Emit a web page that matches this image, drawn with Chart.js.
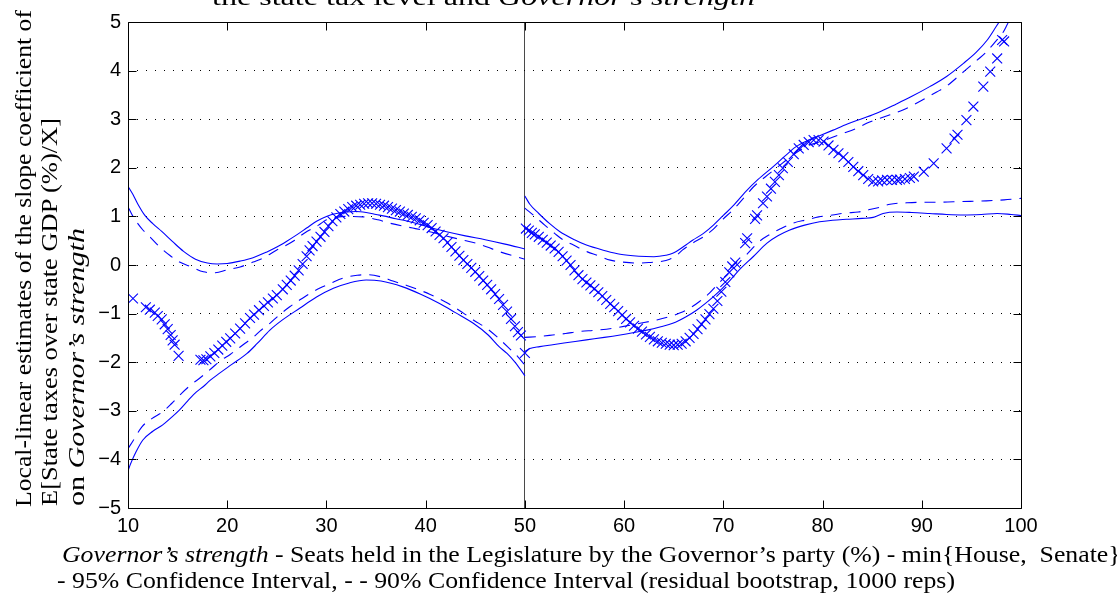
<!DOCTYPE html>
<html><head><meta charset="utf-8">
<script src="https://cdn.jsdelivr.net/npm/chart.js@4.4.0/dist/chart.umd.min.js"></script>
<style>
html,body{margin:0;padding:0;background:#fff;overflow:hidden}
#wrap{position:relative;width:1117px;height:596px;overflow:hidden;background:#fff}
#c{position:absolute;left:0;top:0}
#txt{position:absolute;left:0;top:0;pointer-events:none}
#txt text{white-space:pre}
</style></head><body>
<div id="wrap">
<canvas id="c" width="1117" height="596"></canvas>
<svg id="txt" width="1117" height="596" font-family="'Liberation Serif', 'Times New Roman', serif" font-size="24" fill="#000">
  <text id="title" x="212" y="5">the state tax level and <tspan font-style="italic">Governor’s strength</tspan></text>
  <text id="xl1" x="62" y="562"><tspan font-style="italic">Governor’s strength</tspan> - Seats held in the Legislature by the Governor’s party (%) - min{House,  Senate}</text>
  <text id="xl2" x="57" y="588">- 95% Confidence Interval, - - 90% Confidence Interval (residual bootstrap, 1000 reps)</text>
  <text id="yl1" transform="translate(31,507) rotate(-90)" x="0" y="0">Local-linear estimates of the slope coefficient of</text>
  <text id="yl2" transform="translate(57,506) rotate(-90)" x="0" y="0">E[State taxes over state GDP (%)/X]</text>
  <text id="yl3" transform="translate(84,506) rotate(-90)" x="0" y="0">on <tspan font-style="italic">Governor’s strength</tspan></text>
</svg>
</div>
<script>
// ---- tick labels ----
const xTickValues = [10, 20, 30, 40, 50, 60, 70, 80, 90, 100];
const yTickValues = [-5, -4, -3, -2, -1, 0, 1, 2, 3, 4, 5];

// ---- left segment (10 - 50) ----
const upper95Left = [[10,1.62],[10.5,1.45],[11,1.25],[11.7,1.02],[12.5,0.85],[13.4,0.69],[14.5,0.48],[15.6,0.28],[16.8,0.12],[18,0.04],[19,0.02],[20,0.03],[21.3,0.08],[22.6,0.15],[24,0.27],[25,0.37],[26,0.49],[27,0.62],[28,0.76],[29,0.9],[30,1.0],[31,1.06],[32,1.09],[33,1.1],[34,1.08],[35,1.04],[36,1.0],[37,0.95],[38,0.91],[39,0.86],[40,0.8],[41,0.74],[42,0.69],[44,0.6],[46,0.52],[48,0.43],[50,0.33]];
const upper90Left = [[10,1.2],[10.5,1.0],[11.5,0.72],[12.3,0.56],[13.2,0.37],[14.2,0.2],[15.2,0.06],[16.4,-0.04],[17.6,-0.14],[18.8,-0.16],[20,-0.1],[21.3,-0.04],[22.6,0.06],[23.6,0.14],[25,0.31],[25.8,0.39],[26.8,0.51],[27.8,0.66],[29.2,0.82],[30,0.93],[31,0.98],[32,1.0],[33.7,0.99],[35.2,0.93],[36.4,0.86],[37.7,0.8],[38.7,0.76],[40.1,0.7],[42,0.6],[43.8,0.51],[45.2,0.44],[46.2,0.37],[47.5,0.27],[50,0.12]];
const lower95Left = [[10,-4.25],[10.1,-4.18],[10.8,-3.85],[11.5,-3.6],[12.5,-3.42],[13.5,-3.29],[14.3,-3.15],[15.2,-2.98],[16,-2.8],[16.9,-2.61],[17.6,-2.5],[18.3,-2.37],[19.2,-2.23],[20.5,-2.04],[22,-1.82],[23,-1.62],[24.3,-1.34],[25.5,-1.14],[27.3,-0.89],[29,-0.66],[30.7,-0.48],[32.3,-0.37],[34,-0.31],[35.5,-0.33],[37.7,-0.45],[39.5,-0.6],[41.4,-0.79],[43,-0.98],[44.8,-1.2],[46.3,-1.44],[47.4,-1.68],[48.2,-1.82],[49,-2.0],[50,-2.28]];
const lower90Left = [[10,-3.78],[10.5,-3.62],[11.4,-3.33],[12.4,-3.16],[13.5,-3.02],[14.4,-2.85],[15.4,-2.64],[16.2,-2.49],[17.4,-2.3],[18.4,-2.13],[19.3,-1.97],[20.3,-1.84],[21.8,-1.61],[22.6,-1.49],[23.3,-1.36],[24.3,-1.2],[25.3,-1.02],[26.3,-0.86],[27.3,-0.72],[28.3,-0.59],[29.4,-0.47],[30.4,-0.38],[31.7,-0.27],[33.1,-0.21],[34.2,-0.2],[35.6,-0.25],[36.7,-0.33],[38.1,-0.42],[39.3,-0.51],[40.4,-0.6],[42,-0.76],[43.8,-0.99],[44.8,-1.13],[46.2,-1.31],[47.2,-1.48],[48.5,-1.73],[49.3,-1.89],[50,-2.06]];
const estimateLeft = [[10.5,-0.69],[11.8,-0.87],[12.2,-0.92],[12.7,-0.98],[13.0,-1.05],[13.4,-1.12],[13.7,-1.22],[14.0,-1.32],[14.3,-1.44],[14.5,-1.55],[14.7,-1.64],[15.1,-1.87],[17.3,-1.95],[17.6,-1.96],[17.9,-1.94],[18.3,-1.88],[18.7,-1.81],[19.1,-1.74],[19.5,-1.66],[19.9,-1.58],[20.3,-1.51],[20.8,-1.41],[21.3,-1.31],[21.8,-1.2],[22.3,-1.09],[22.7,-1.02],[23.2,-0.93],[23.7,-0.84],[24.1,-0.77],[24.6,-0.69],[25.0,-0.62],[25.6,-0.5],[26.0,-0.41],[26.4,-0.32],[26.8,-0.22],[27.2,-0.11],[27.6,0.02],[28.0,0.18],[28.3,0.3],[28.6,0.39],[29.0,0.48],[29.4,0.58],[29.8,0.68],[30.2,0.8],[30.6,0.9],[31.0,0.98],[31.4,1.05],[31.8,1.1],[32.2,1.15],[32.6,1.19],[33.0,1.22],[33.4,1.24],[33.8,1.26],[34.2,1.27],[34.6,1.27],[35.0,1.26],[35.4,1.24],[35.8,1.22],[36.2,1.19],[36.6,1.16],[37.0,1.13],[37.4,1.1],[37.8,1.06],[38.2,1.03],[38.6,0.99],[39.0,0.96],[39.4,0.92],[39.8,0.87],[40.2,0.82],[40.6,0.76],[41.0,0.69],[41.4,0.62],[41.8,0.55],[42.2,0.46],[42.6,0.37],[43.0,0.28],[43.4,0.19],[43.8,0.1],[44.2,0.02],[44.6,-0.06],[45.0,-0.14],[45.4,-0.23],[45.8,-0.32],[46.2,-0.41],[46.6,-0.5],[47.0,-0.6],[47.4,-0.7],[47.8,-0.82],[48.2,-0.96],[48.6,-1.11],[49.0,-1.26],[49.3,-1.38],[49.6,-1.45],[50.0,-1.81]];

// ---- right segment (50 - 100) ----
const upper95Right = [[50,1.42],[50.5,1.25],[51.4,1.06],[52.5,0.85],[53.5,0.69],[55,0.52],[56.2,0.41],[58,0.3],[59.6,0.22],[61.5,0.18],[63,0.17],[64.2,0.2],[64.9,0.24],[66,0.38],[66.9,0.51],[68,0.65],[69,0.82],[70,1.02],[71,1.22],[72.3,1.52],[73.5,1.76],[75,2.02],[76.2,2.24],[77.3,2.43],[78.5,2.56],[79.7,2.66],[81,2.77],[82.5,2.9],[84.1,3.02],[85.5,3.13],[87.4,3.31],[89,3.47],[90.8,3.67],[92.5,3.88],[94.2,4.15],[95.5,4.38],[96.6,4.63],[97.8,5.0],[100,5.6]];
const upper90Right = [[50,1.17],[51,1.0],[52,0.82],[53,0.65],[53.9,0.51],[54.9,0.41],[56.3,0.27],[57.3,0.2],[58.6,0.1],[59.9,0.06],[61.3,0.04],[62.5,0.05],[63.6,0.07],[64.6,0.12],[65.3,0.2],[65.9,0.31],[66.9,0.45],[68,0.58],[69,0.74],[70,0.95],[71,1.14],[72.4,1.46],[73,1.6],[74.7,1.89],[75.5,2.02],[77,2.26],[78.5,2.45],[80,2.55],[81,2.63],[82.1,2.71],[83.5,2.82],[84.5,2.92],[85.8,3.02],[86.8,3.09],[88.1,3.19],[89.1,3.29],[90.1,3.4],[91.5,3.56],[92.5,3.68],[93.5,3.85],[94.4,4.01],[95.6,4.22],[96.4,4.36],[97.4,4.59],[98.2,4.79],[98.7,4.98],[100,5.35]];
const lower95Right = [[50,-1.78],[50.5,-1.72],[51.5,-1.68],[52.8,-1.64],[54.5,-1.59],[56.2,-1.54],[58,-1.49],[59.6,-1.44],[61,-1.39],[62.3,-1.34],[63.7,-1.27],[64.9,-1.2],[66.2,-1.07],[67.3,-0.93],[68.2,-0.79],[69,-0.65],[69.9,-0.48],[70.7,-0.31],[71.7,-0.08],[73,0.17],[74.4,0.45],[75.5,0.6],[76.7,0.72],[78.2,0.82],[79.7,0.89],[81,0.92],[82.4,0.94],[84,0.96],[85.1,0.98],[86.1,1.06],[87.5,1.09],[89,1.08],[90.8,1.06],[92.5,1.04],[94.2,1.03],[96,1.04],[97.6,1.06],[99,1.04],[100,1.02]];
const lower90Right = [[50,-1.49],[51.4,-1.47],[52.8,-1.44],[54.1,-1.41],[55.4,-1.37],[57.2,-1.34],[58.9,-1.3],[60.3,-1.25],[61.6,-1.2],[63.3,-1.13],[64.6,-1.06],[65.6,-0.99],[66.6,-0.89],[67.6,-0.75],[68.6,-0.58],[69.6,-0.36],[70.7,-0.14],[71.6,0.05],[72.6,0.27],[73.6,0.48],[74.7,0.63],[75.7,0.74],[77,0.86],[78.4,0.93],[79.6,0.99],[81,1.03],[82.3,1.07],[83.6,1.09],[84.5,1.13],[85.8,1.19],[86.8,1.25],[88.5,1.28],[90,1.29],[91.3,1.29],[93.2,1.3],[94.9,1.31],[96.5,1.32],[98.3,1.34],[100,1.37]];
const estimateRight = [[50.1,0.75],[50.4,0.71],[50.7,0.66],[51.0,0.63],[51.4,0.58],[51.8,0.52],[52.2,0.46],[52.6,0.4],[53.0,0.34],[53.4,0.27],[53.8,0.18],[54.2,0.09],[54.6,0.0],[55.0,-0.11],[55.4,-0.21],[55.8,-0.29],[56.2,-0.36],[56.6,-0.42],[57.0,-0.49],[57.4,-0.56],[57.8,-0.64],[58.2,-0.72],[58.6,-0.8],[59.0,-0.87],[59.4,-0.95],[59.8,-1.03],[60.2,-1.11],[60.6,-1.18],[61.0,-1.25],[61.4,-1.31],[61.8,-1.37],[62.2,-1.43],[62.6,-1.48],[63.0,-1.53],[63.4,-1.57],[63.8,-1.6],[64.2,-1.62],[64.6,-1.64],[65.0,-1.65],[65.4,-1.64],[65.8,-1.62],[66.2,-1.57],[66.6,-1.5],[67.0,-1.42],[67.4,-1.32],[67.8,-1.22],[68.2,-1.12],[68.6,-1.01],[69.0,-0.9],[69.4,-0.74],[69.8,-0.55],[70.2,-0.35],[70.6,-0.15],[70.9,-0.03],[71.2,0.05],[72.2,0.45],[72.4,0.55],[73.2,0.95],[73.4,1.02],[74.0,1.27],[74.4,1.41],[74.8,1.57],[75.2,1.71],[75.6,1.85],[76.0,1.99],[76.5,2.12],[77.1,2.28],[77.6,2.4],[78.1,2.47],[78.6,2.53],[79.1,2.57],[79.6,2.57],[80.1,2.54],[80.6,2.46],[81.1,2.37],[81.6,2.3],[82.1,2.22],[82.6,2.12],[83.1,2.02],[83.6,1.93],[84.1,1.85],[84.6,1.77],[85.1,1.72],[85.6,1.72],[86.0,1.74],[86.5,1.75],[87.0,1.75],[87.5,1.75],[87.8,1.76],[88.3,1.77],[88.8,1.79],[89.2,1.82],[90.2,1.92],[91.2,2.09],[92.5,2.4],[93.3,2.6],[93.6,2.68],[94.5,2.98],[95.2,3.26],[96.2,3.67],[96.9,3.98],[97.6,4.25],[98.1,4.63],[98.3,4.6]];

const BLUE = '#0000ff';
const toXY = arr => arr.map(([x, y]) => ({x, y}));
const lineDs = (arr, dashed) => ({
  type: 'line', data: toXY(arr), borderColor: BLUE, borderWidth: 1.1,
  borderDash: dashed ? [11, 8] : [], pointRadius: 0, fill: false,
  tension: 0.4, cubicInterpolationMode: 'monotone', parsing: false
});
const pointDs = arr => ({
  type: 'scatter', data: toXY(arr), showLine: false, pointStyle: 'crossRot',
  pointRadius: 7, pointBorderColor: BLUE, pointBorderWidth: 1.1, borderColor: BLUE,
  backgroundColor: BLUE, parsing: false
});

const framePlugin = {
  id: 'frame',
  afterDraw(chart) {
    const {ctx, chartArea: a, scales: {x, y}} = chart;
    ctx.save();
    ctx.strokeStyle = '#000';
    ctx.lineWidth = 1;
    const L = Math.round(a.left) + 0.5, R = Math.round(a.right) + 0.5;
    const T = Math.round(a.top) + 0.5, B = Math.round(a.bottom) + 0.5;
    ctx.beginPath();
    ctx.rect(L, T, R - L, B - T);
    xTickValues.forEach(v => {
      const px = Math.round(x.getPixelForValue(v)) + 0.5;
      ctx.moveTo(px, B); ctx.lineTo(px, B - 8);
      ctx.moveTo(px, T); ctx.lineTo(px, T + 8);
    });
    yTickValues.forEach(v => {
      const py = Math.round(y.getPixelForValue(v)) + 0.5;
      ctx.moveTo(L, py); ctx.lineTo(L + 8, py);
      ctx.moveTo(R, py); ctx.lineTo(R - 8, py);
    });
    ctx.stroke();
    ctx.restore();
  }
};

new Chart(document.getElementById('c'), {
  data: {
    datasets: [
      lineDs(upper95Left, false), lineDs(lower95Left, false),
      lineDs(upper90Left, true), lineDs(lower90Left, true),
      lineDs(upper95Right, false), lineDs(lower95Right, false),
      lineDs(upper90Right, true), lineDs(lower90Right, true),
      pointDs(estimateLeft), pointDs(estimateRight)
    ]
  },
  options: {
    responsive: false, animation: false, devicePixelRatio: 1,
    layout: {padding: {top: 22, right: 96, left: 0, bottom: 0}},
    plugins: {legend: {display: false}, tooltip: {enabled: false}},
    scales: {
      x: {
        type: 'linear', min: 10, max: 100,
        afterBuildTicks: s => { s.ticks = xTickValues.map(v => ({value: v})); },
        afterFit: s => { s.height = 88; },
        ticks: {color: '#000', padding: 6, font: {family: "'Liberation Sans', Arial, sans-serif", size: 20}, maxRotation: 0, autoSkip: false},
        grid: {drawTicks: false, lineWidth: 1, color: c => (c.tick && c.tick.value === 50) ? '#4a4a4a' : 'rgba(0,0,0,0)'},
        border: {display: false}
      },
      y: {
        type: 'linear', min: -5, max: 5,
        afterBuildTicks: s => { s.ticks = yTickValues.map(v => ({value: v})); },
        afterFit: s => { s.width = 128; },
        ticks: {color: '#000', padding: 7, font: {family: "'Liberation Sans', Arial, sans-serif", size: 20},
                callback: v => v < 0 ? '\u2212' + Math.abs(v) : String(v)},
        grid: {drawTicks: false, lineWidth: 1, color: c => (c.tick && Math.abs(c.tick.value) < 5) ? '#000' : 'rgba(0,0,0,0)'},
        border: {display: false, dash: [1, 8]}
      }
    }
  },
  plugins: [framePlugin]
});

// ---- fit text widths to the reference ----
function setLen(id, w) {
  const t = document.getElementById(id);
  t.setAttribute('textLength', w);
  t.setAttribute('lengthAdjust', 'spacingAndGlyphs');
}
const n2 = document.getElementById('xl2').getComputedTextLength();
const n1 = document.getElementById('xl1').getComputedTextLength();
const sc = 898 / n2;
setLen('xl2', 898);
setLen('xl1', n1 * sc);
setLen('title', 543);
setLen('yl1', 497);
setLen('yl2', 388);
setLen('yl3', 278);
</script>
</body></html>
